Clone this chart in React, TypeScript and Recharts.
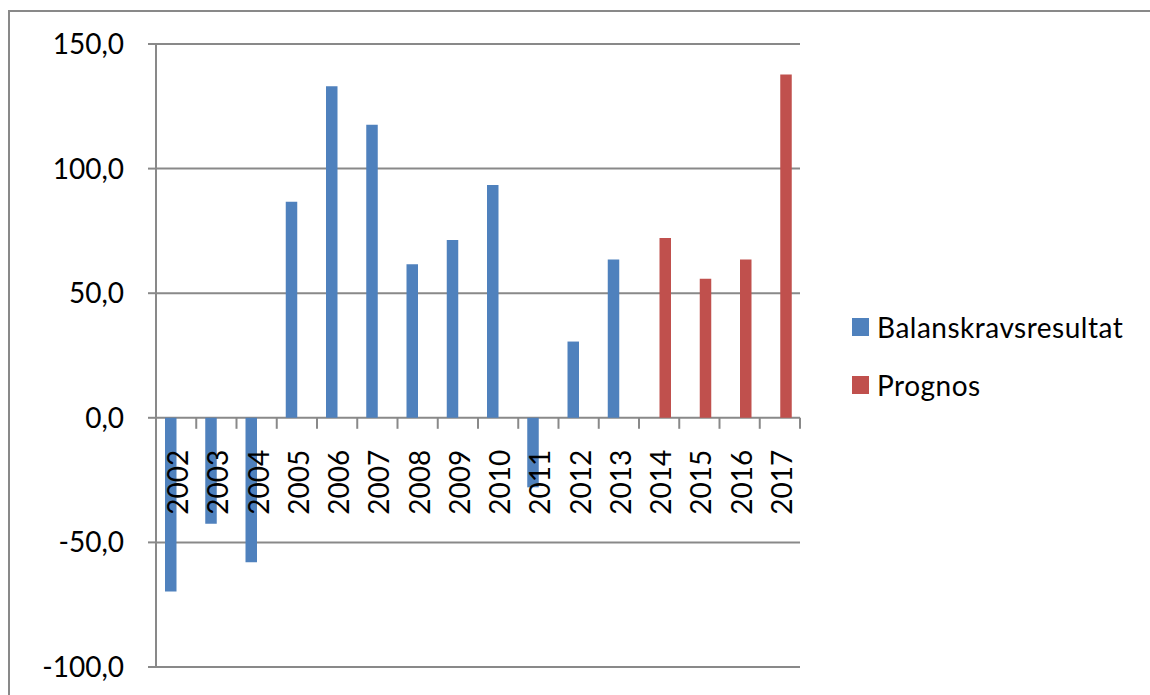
import React from 'react';
import { BarChart, Bar, XAxis, YAxis, CartesianGrid } from 'recharts';

const years = ['2002', '2003', '2004', '2005', '2006', '2007', '2008', '2009', '2010', '2011', '2012', '2013', '2014', '2015', '2016', '2017'];
const balanskrav = [-69.7, -42.5, -58.0, 86.7, 133.0, 117.6, 61.6, 71.3, 93.4, -27.9, 30.6, 63.5, null, null, null, null];
const prognos = [null, null, null, null, null, null, null, null, null, null, null, null, 72.2, 55.8, 63.5, 137.8];
const yTicks = [-100, -50, 0, 50, 100, 150];
const seriesInfo = [
  { key: 'balanskrav', name: 'Balanskravsresultat', color: '#4F81BD' },
  { key: 'prognos', name: 'Prognos', color: '#C0504D' },
];

const data = years.map((year, i) => ({ year, balanskrav: balanskrav[i], prognos: prognos[i] }));

const W = 1150;
const H = 695;
const TOP = 44;
const BOTTOM = 28;
const LEFT = 156;
const RIGHT = 350;
const Y_MIN = -100;
const Y_MAX = 150;
const GREY = '#898989';
const FONT = 'Lato, sans-serif';

const plotH = H - TOP - BOTTOM;
const zeroY = TOP + (Y_MAX / (Y_MAX - Y_MIN)) * plotH;
const band = (W - LEFT - RIGHT) / years.length;

const YearTick = (props: any) => {
  const { x, payload } = props;
  return (
    <g>
      <line x1={x + band / 2} x2={x + band / 2} y1={zeroY} y2={zeroY + 11} stroke={GREY} strokeWidth={2} />
      <text
        x={0}
        y={0}
        transform={`translate(${x + 2}, ${zeroY + 32}) rotate(-90)`}
        textAnchor="end"
        dy="0.355em"
        fontFamily={FONT}
        fontSize={28}
        fill="#000"
      >
        {payload.value}
      </text>
    </g>
  );
};

export default function App() {
  return (
    <div style={{ position: 'relative', width: W, height: H, overflow: 'hidden', background: '#fff' }}>
      <style>{'html, body { margin: 0; padding: 0; overflow: hidden; }'}</style>
      <div style={{ position: 'absolute', left: 8, top: 10, width: W, height: 2, background: GREY }} />
      <div style={{ position: 'absolute', left: 8, top: 10, width: 2, height: H, background: GREY }} />
      <div style={{ position: 'absolute', left: 0, top: 0 }}>
        <BarChart
          width={W}
          height={H}
          data={data}
          margin={{ top: TOP, right: RIGHT, bottom: 0, left: 0 }}
          barGap={0}
          barSize={11.5}
        >
          <CartesianGrid horizontal vertical={false} stroke={GREY} strokeWidth={2} />
          <XAxis
            dataKey="year"
            axisLine={false}
            tickLine={false}
            height={BOTTOM}
            tick={<YearTick />}
            interval={0}
          />
          <YAxis
            width={LEFT}
            domain={[Y_MIN, Y_MAX]}
            ticks={yTicks}
            interval={0}
            axisLine={{ stroke: GREY, strokeWidth: 2 }}
            tickLine={{ stroke: GREY, strokeWidth: 2 }}
            tickSize={8}
            tickMargin={24}
            tickFormatter={(v: number) => v.toFixed(1).replace('.', ',')}
            tick={{ fontFamily: FONT, fontSize: 28, fill: '#000' }}
          />
          {seriesInfo.map((s) => (
            <Bar key={s.key} dataKey={s.key} name={s.name} fill={s.color} isAnimationActive={false} />
          ))}
        </BarChart>
      </div>
      <div style={{ position: 'absolute', left: 852, top: 298, fontFamily: FONT, fontSize: 28, letterSpacing: 0.5, color: '#000' }}>
        {seriesInfo.map((s) => (
          <div key={s.key} style={{ display: 'flex', alignItems: 'center', height: 58 }}>
            <span style={{ display: 'inline-block', width: 17, height: 18, background: s.color, marginRight: 8 }} />
            <span>{s.name}</span>
          </div>
        ))}
      </div>
    </div>
  );
}
